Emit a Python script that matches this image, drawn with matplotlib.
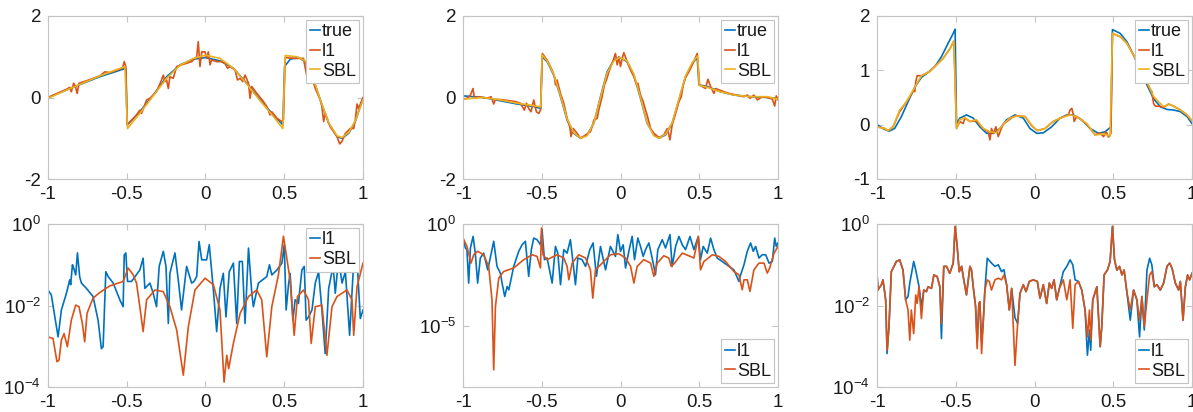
import matplotlib
matplotlib.use('Agg')
import matplotlib.pyplot as plt
import numpy as np

plt.rcParams['font.family'] = ['Liberation Sans', 'DejaVu Sans']
plt.rcParams['mathtext.fontset'] = 'custom'
plt.rcParams['mathtext.rm'] = 'Liberation Sans'

c_blue = '#0072BD'
c_orange = '#D95319'
c_yellow = '#EDB120'
c_box = '#c4c4c4'
c_text = '#1a1a1a'

########################
# Top row: signals     #
########################

# --- panel 1 ---
x_true_1 = [-1.0, -0.841, -0.671, -0.519, -0.506, -0.497, -0.417, -0.332, -0.247, -0.162,
            -0.077, 0.001, 0.092, 0.177, 0.262, 0.347, 0.432, 0.491, 0.502, 0.538,
            0.591, 0.633, 0.686, 0.729, 0.782, 0.835, 0.866, 0.909, 0.951, 1.0]
y_true_1 = [0.0, 0.25, 0.51, 0.70, 0.72, -0.67, -0.35, 0.06, 0.51, 0.80,
            0.94, 0.98, 0.90, 0.72, 0.35, -0.06, -0.43, -0.67, 0.76, 0.94,
            0.98, 0.88, 0.43, -0.06, -0.63, -0.96, -1.00, -0.88, -0.59, -0.02]

x_l1_1 = [-1.0, -0.883, -0.862, -0.852, -0.837, -0.824, -0.815, -0.803, -0.756, -0.671,
          -0.639, -0.608, -0.527, -0.516, -0.506, -0.497, -0.438, -0.417, -0.406, -0.374,
          -0.353, -0.311, -0.279, -0.268, -0.258, -0.247, -0.236, -0.226, -0.205, -0.183,
          -0.152, -0.120, -0.088, -0.067, -0.056, -0.046, -0.035, -0.024, -0.003, 0.007,
          0.018, 0.029, 0.039, 0.071, 0.103, 0.124, 0.139, 0.156, 0.188, 0.203,
          0.220, 0.237, 0.251, 0.273, 0.283, 0.294, 0.326, 0.368, 0.389, 0.410,
          0.421, 0.453, 0.485, 0.495, 0.506, 0.569, 0.622, 0.644, 0.665, 0.697,
          0.729, 0.739, 0.750, 0.760, 0.792, 0.835, 0.852, 0.866, 0.888, 0.919,
          0.941, 0.951, 0.962, 0.972, 1.0]
y_l1_1 = [0.00, 0.20, 0.25, 0.14, 0.35, 0.25, 0.10, 0.35, 0.41, 0.53,
          0.63, 0.61, 0.72, 0.88, 0.76, -0.67, -0.43, -0.31, -0.39, -0.06,
          -0.02, 0.14, 0.43, 0.55, 0.39, 0.43, 0.22, 0.51, 0.47, 0.76,
          0.80, 0.84, 0.88, 0.96, 1.00, 1.37, 0.76, 1.12, 1.12, 0.96,
          1.12, 0.80, 0.92, 0.88, 0.88, 0.84, 0.72, 0.76, 0.67, 0.43,
          0.47, 0.39, 0.55, 0.35, -0.02, 0.27, 0.10, -0.10, -0.22, -0.43,
          -0.35, -0.51, -0.59, -0.55, 0.98, 0.96, 0.96, 0.51, 0.63, 0.22,
          -0.06, -0.22, -0.59, -0.39, -0.72, -0.96, -1.14, -1.08, -0.88, -0.76,
          -0.76, -0.55, -0.16, -0.27, 0.00]

x_sbl_1 = [-1.0, -0.841, -0.671, -0.512, -0.495, -0.417, -0.332, -0.247, -0.162, -0.077,
           0.001, 0.092, 0.177, 0.262, 0.347, 0.432, 0.491, 0.506, 0.580, 0.633,
           0.686, 0.729, 0.782, 0.835, 0.866, 0.909, 0.951, 1.0]
y_sbl_1 = [-0.02, 0.25, 0.53, 0.76, -0.76, -0.39, 0.04, 0.47, 0.79, 0.96,
           1.04, 0.96, 0.72, 0.33, -0.08, -0.47, -0.76, 1.03, 1.00, 0.90,
           0.45, -0.06, -0.62, -0.94, -0.98, -0.86, -0.57, -0.06]

# --- panel 2 ---
x_true_2 = [-1.0, -0.869, -0.763, -0.657, -0.551, -0.506, -0.498, -0.466, -0.424, -0.381,
            -0.339, -0.297, -0.254, -0.212, -0.169, -0.127, -0.085, -0.042, -0.004, 0.042,
            0.085, 0.127, 0.169, 0.212, 0.244, 0.286, 0.328, 0.371, 0.413, 0.456,
            0.487, 0.498, 0.551, 0.636, 0.72, 0.826, 0.932, 1.0]
y_true_2 = [0.04, 0.0, -0.08, -0.16, -0.22, -0.27, 1.00, 0.88, 0.55, 0.02,
            -0.55, -0.88, -1.00, -0.92, -0.63, 0.02, 0.63, 0.92, 0.98, 0.88,
            0.55, -0.02, -0.63, -0.92, -1.00, -0.92, -0.63, -0.06, 0.51, 0.84,
            0.98, 0.31, 0.27, 0.14, 0.06, 0.02, 0.0, -0.02]

x_l1_2 = [-1.0, -0.975, -0.953, -0.936, -0.928, -0.900, -0.847, -0.822, -0.805, -0.794,
          -0.742, -0.667, -0.636, -0.610, -0.597, -0.583, -0.568, -0.551, -0.534, -0.519,
          -0.508, -0.496, -0.466, -0.434, -0.419, -0.413, -0.403, -0.381, -0.360, -0.339,
          -0.322, -0.314, -0.301, -0.275, -0.254, -0.222, -0.191, -0.180, -0.169, -0.148,
          -0.138, -0.127, -0.117, -0.102, -0.089, -0.074, -0.053, -0.032, -0.021, -0.011,
          0.000, 0.011, 0.021, 0.042, 0.064, 0.085, 0.102, 0.110, 0.127, 0.144,
          0.159, 0.169, 0.191, 0.212, 0.244, 0.275, 0.297, 0.307, 0.314, 0.328,
          0.350, 0.371, 0.386, 0.398, 0.413, 0.434, 0.456, 0.487, 0.502, 0.519,
          0.540, 0.555, 0.572, 0.593, 0.604, 0.631, 0.657, 0.699, 0.784, 0.805,
          0.822, 0.847, 0.869, 0.900, 0.932, 0.964, 0.979, 0.989, 1.0]
y_l1_2 = [-0.04, -0.02, 0.06, 0.22, -0.02, 0.02, -0.02, 0.02, -0.16, -0.04,
          -0.06, -0.10, -0.14, -0.31, -0.14, -0.27, -0.35, -0.06, -0.35, -0.39,
          -0.31, 1.08, 0.92, 0.67, 0.51, 0.31, 0.43, 0.10, -0.14, -0.51,
          -0.72, -0.96, -0.76, -0.88, -1.00, -0.92, -0.84, -0.72, -0.55, -0.51,
          -0.31, -0.14, 0.02, 0.31, 0.43, 0.63, 0.84, 1.08, 0.80, 1.00,
          0.76, 0.96, 1.10, 0.88, 0.67, 0.51, 0.31, 0.35, 0.06, -0.10,
          -0.31, -0.43, -0.76, -0.88, -0.98, -0.92, -0.76, -0.92, -1.04, -0.67,
          -0.39, -0.10, 0.02, 0.31, 0.49, 0.63, 0.80, 1.08, 0.31, 0.27,
          0.22, 0.45, 0.27, 0.10, 0.22, 0.18, 0.14, 0.09, 0.02, 0.06,
          -0.02, 0.06, -0.06, 0.02, 0.00, -0.04, -0.21, 0.04, -0.06]

x_sbl_2 = [-1.0, -0.869, -0.763, -0.657, -0.551, -0.506, -0.498, -0.466, -0.424, -0.381,
           -0.339, -0.297, -0.254, -0.212, -0.169, -0.127, -0.085, -0.042, -0.004, 0.042,
           0.085, 0.127, 0.169, 0.212, 0.244, 0.286, 0.328, 0.371, 0.413, 0.456,
           0.490, 0.500, 0.551, 0.636, 0.72, 0.826, 0.932, 1.0]
y_sbl_2 = [-0.04, 0.0, -0.06, -0.14, -0.20, -0.23, 1.05, 0.90, 0.57, 0.04,
           -0.52, -0.86, -1.00, -0.94, -0.62, 0.0, 0.60, 0.90, 0.98, 0.90,
           0.57, 0.0, -0.62, -0.94, -1.00, -0.90, -0.62, -0.04, 0.53, 0.86,
           1.02, 0.30, 0.25, 0.14, 0.06, 0.02, 0.02, -0.04]

# --- panel 3 ---
x_true_3 = [-1.0, -0.962, -0.924, -0.888, -0.845, -0.803, -0.760, -0.718, -0.676, -0.633,
            -0.591, -0.548, -0.516, -0.504, -0.495, -0.474, -0.432, -0.389, -0.347, -0.304,
            -0.262, -0.219, -0.177, -0.124, -0.071, -0.029, 0.014, 0.056, 0.109, 0.162,
            0.205, 0.247, 0.300, 0.353, 0.406, 0.449, 0.485, 0.495, 0.544, 0.586,
            0.629, 0.671, 0.714, 0.756, 0.799, 0.841, 0.883, 0.926, 0.968, 1.0]
y_true_3 = [0.0, -0.07, -0.12, -0.07, 0.15, 0.42, 0.69, 0.87, 0.96, 1.07,
            1.25, 1.50, 1.68, 1.76, 0.02, 0.12, 0.18, 0.12, -0.04, -0.16,
            -0.16, -0.07, 0.09, 0.18, 0.12, -0.07, -0.16, -0.15, -0.04, 0.12,
            0.18, 0.18, 0.09, -0.07, -0.16, -0.13, -0.04, 1.75, 1.68, 1.53,
            1.28, 1.01, 0.73, 0.48, 0.33, 0.28, 0.27, 0.24, 0.15, 0.02]

x_l1_3 = [-1.0, -0.951, -0.930, -0.898, -0.856, -0.813, -0.771, -0.760, -0.754, -0.745,
          -0.718, -0.665, -0.622, -0.580, -0.537, -0.512, -0.495, -0.474, -0.453, -0.442,
          -0.410, -0.368, -0.326, -0.294, -0.283, -0.273, -0.262, -0.245, -0.230, -0.215,
          -0.198, -0.156, -0.134, -0.113, -0.060, -0.018, 0.018, 0.067, 0.120, 0.173,
          0.215, 0.226, 0.237, 0.247, 0.252, 0.268, 0.332, 0.385, 0.417, 0.438,
          0.455, 0.470, 0.485, 0.495, 0.544, 0.586, 0.629, 0.671, 0.714, 0.724,
          0.735, 0.745, 0.756, 0.767, 0.788, 0.820, 0.852, 0.883, 0.926, 0.968, 1.0]
y_l1_3 = [-0.04, -0.07, -0.11, -0.04, 0.24, 0.42, 0.61, 0.61, 0.79, 0.90,
          0.90, 0.98, 1.10, 1.22, 1.40, 1.54, -0.07, 0.06, 0.02, 0.12,
          0.06, 0.07, -0.07, -0.13, -0.28, -0.07, -0.16, -0.04, -0.22, -0.10,
          0.01, 0.10, 0.15, 0.16, 0.15, -0.02, -0.11, -0.07, 0.06, 0.13,
          0.18, 0.27, 0.30, 0.18, 0.06, 0.15, 0.01, -0.19, -0.15, -0.22,
          -0.13, -0.23, -0.16, 1.68, 1.62, 1.50, 1.28, 1.04, 0.76, 0.71,
          0.65, 0.61, 0.39, 0.34, 0.34, 0.32, 0.38, 0.34, 0.27, 0.18, 0.07]

x_sbl_3 = [-1.0, -0.951, -0.930, -0.898, -0.856, -0.813, -0.760, -0.718, -0.665, -0.622,
           -0.580, -0.537, -0.512, -0.495, -0.474, -0.442, -0.410, -0.368, -0.326, -0.283,
           -0.241, -0.198, -0.156, -0.113, -0.060, -0.018, 0.018, 0.067, 0.120, 0.173,
           0.226, 0.268, 0.332, 0.385, 0.438, 0.480, 0.495, 0.544, 0.586, 0.629,
           0.671, 0.714, 0.756, 0.788, 0.820, 0.852, 0.883, 0.926, 0.968, 1.0]
y_sbl_3 = [-0.04, -0.07, -0.11, -0.04, 0.27, 0.42, 0.69, 0.90, 0.98, 1.10,
           1.22, 1.40, 1.54, -0.07, 0.09, 0.13, 0.06, 0.09, -0.07, -0.13,
           -0.15, 0.01, 0.12, 0.16, 0.15, -0.01, -0.11, -0.07, 0.06, 0.13,
           0.18, 0.15, 0.02, -0.19, -0.17, -0.21, 1.68, 1.62, 1.50, 1.28,
           1.04, 0.79, 0.52, 0.42, 0.33, 0.38, 0.34, 0.27, 0.18, 0.07]

########################
# Bottom row: errors   #
# (stored as log10)    #
########################

# --- panel 4 ---
xe_l1_1 = [-1.000, -0.979, -0.936, -0.915, -0.883, -0.862, -0.856, -0.845, -0.837, -0.824,
           -0.813, -0.799, -0.788, -0.756, -0.714, -0.682, -0.661, -0.650, -0.633, -0.618,
           -0.586, -0.544, -0.523, -0.516, -0.506, -0.495, -0.470, -0.417, -0.396, -0.385,
           -0.353, -0.332, -0.311, -0.294, -0.268, -0.251, -0.236, -0.226, -0.194, -0.173,
           -0.152, -0.120, -0.088, -0.073, -0.056, -0.041, -0.024, 0.007, 0.024, 0.050,
           0.071, 0.092, 0.113, 0.130, 0.151, 0.177, 0.198, 0.215, 0.234, 0.251,
           0.273, 0.294, 0.304, 0.336, 0.389, 0.406, 0.421, 0.453, 0.485, 0.500,
           0.512, 0.527, 0.537, 0.555, 0.569, 0.590, 0.612, 0.627, 0.639, 0.654,
           0.676, 0.697, 0.718, 0.739, 0.760, 0.782, 0.803, 0.813, 0.824, 0.845,
           0.867, 0.888, 0.915, 0.937, 0.962, 0.983, 1.000]
le_l1_1 = [-1.62, -1.74, -2.77, -2.11, -1.70, -1.37, -1.49, -1.00, -1.08, -1.25,
           -0.71, -1.29, -1.45, -1.58, -1.78, -2.36, -3.06, -3.01, -1.17, -1.29,
           -1.45, -1.86, -2.03, -0.76, -0.71, -1.41, -1.41, -1.13, -0.84, -1.58,
           -1.45, -1.70, -2.03, -1.04, -0.67, -1.04, -2.44, -1.21, -0.71, -1.37,
           -2.11, -1.04, -1.45, -1.41, -1.29, -0.43, -0.88, -0.88, -0.51, -1.62,
           -2.64, -1.58, -1.21, -2.28, -1.17, -0.96, -2.44, -0.92, -0.92, -2.44,
           -0.59, -1.70, -2.03, -1.45, -1.29, -1.00, -1.25, -1.13, -0.96, -0.51,
           -2.11, -1.49, -1.21, -2.36, -1.86, -1.95, -1.13, -1.04, -2.36, -2.28,
           -2.11, -1.45, -1.17, -2.11, -3.18, -1.58, -1.17, -1.17, -1.70, -0.84,
           -1.45, -1.17, -2.73, -1.21, -0.88, -2.32, -2.11]

xe_sbl_1 = [-1.000, -0.968, -0.943, -0.930, -0.915, -0.898, -0.877, -0.852, -0.824, -0.803,
            -0.782, -0.767, -0.752, -0.714, -0.671, -0.608, -0.523, -0.491, -0.459, -0.438,
            -0.417, -0.396, -0.374, -0.321, -0.268, -0.226, -0.183, -0.141, -0.109, -0.067,
            -0.003, 0.050, 0.092, 0.118, 0.135, 0.147, 0.177, 0.220, 0.273, 0.325,
            0.357, 0.389, 0.421, 0.463, 0.495, 0.508, 0.537, 0.563, 0.584, 0.622,
            0.654, 0.671, 0.697, 0.739, 0.771, 0.803, 0.835, 0.898, 0.930, 0.941,
            0.962, 1.000]
le_sbl_1 = [-2.77, -2.81, -3.38, -3.34, -2.85, -2.69, -3.01, -2.36, -1.99, -2.03,
            -2.44, -2.89, -2.19, -1.82, -1.68, -1.52, -1.41, -1.08, -1.25, -1.45,
            -2.03, -2.64, -1.86, -1.62, -1.66, -2.03, -2.60, -3.71, -2.52, -1.62,
            -1.33, -1.49, -2.11, -3.88, -3.22, -3.55, -2.93, -2.19, -1.78, -1.62,
            -1.86, -3.26, -2.03, -1.25, -0.30, -0.63, -1.37, -2.73, -1.78, -1.62,
            -1.86, -2.93, -2.03, -1.99, -3.22, -2.03, -1.78, -1.62, -1.86, -2.73,
            -1.54, -0.96]

# --- panel 5 ---
xe_l1_2 = [-1.000, -0.985, -0.975, -0.964, -0.953, -0.936, -0.922, -0.907, -0.890, -0.869,
           -0.843, -0.816, -0.805, -0.784, -0.763, -0.752, -0.735, -0.720, -0.709, -0.678,
           -0.646, -0.625, -0.604, -0.583, -0.566, -0.551, -0.530, -0.508, -0.498, -0.483,
           -0.466, -0.434, -0.413, -0.398, -0.381, -0.360, -0.339, -0.318, -0.301, -0.286,
           -0.271, -0.244, -0.222, -0.195, -0.174, -0.153, -0.127, -0.095, -0.064, -0.032,
           -0.017, 0.000, 0.017, 0.032, 0.053, 0.074, 0.089, 0.110, 0.127, 0.144,
           0.159, 0.180, 0.201, 0.222, 0.237, 0.265, 0.286, 0.314, 0.328, 0.350,
           0.371, 0.392, 0.413, 0.441, 0.466, 0.494, 0.508, 0.525, 0.551, 0.572,
           0.593, 0.614, 0.646, 0.689, 0.720, 0.752, 0.763, 0.784, 0.805, 0.826,
           0.843, 0.858, 0.879, 0.900, 0.922, 0.943, 0.964, 0.979, 0.989, 1.000]
le_l1_2 = [-0.69, -1.18, -1.26, -2.90, -1.18, -0.61, -1.43, -2.90, -1.67, -1.43,
           -2.25, -1.26, -0.85, -2.08, -2.41, -2.90, -3.56, -3.07, -3.23, -2.08,
           -1.34, -1.02, -0.85, -2.57, -1.26, -0.69, -0.77, -1.02, -0.28, -1.75,
           -1.67, -2.90, -1.10, -1.43, -2.98, -1.26, -1.43, -0.77, -1.92, -2.98,
           -1.67, -1.75, -2.08, -1.26, -0.93, -2.57, -1.10, -2.25, -1.10, -1.59,
           -0.52, -1.34, -1.02, -2.16, -1.34, -0.61, -1.75, -0.69, -1.10, -1.59,
           -1.26, -0.93, -1.67, -2.49, -1.26, -0.77, -1.18, -0.52, -2.08, -1.10,
           -0.61, -1.02, -1.26, -0.61, -1.26, -0.61, -1.75, -1.10, -1.43, -0.69,
           -1.26, -1.67, -1.84, -2.08, -2.25, -2.82, -2.49, -2.00, -1.34, -0.93,
           -1.34, -1.10, -1.67, -1.51, -1.51, -1.92, -1.84, -0.69, -1.10, -0.93]

xe_sbl_2 = [-1.000, -0.975, -0.949, -0.932, -0.907, -0.869, -0.837, -0.816, -0.805, -0.794,
            -0.773, -0.742, -0.678, -0.614, -0.561, -0.530, -0.508, -0.502, -0.492, -0.466,
            -0.403, -0.360, -0.339, -0.328, -0.307, -0.265, -0.222, -0.191, -0.176, -0.159,
            -0.106, -0.064, -0.011, 0.032, 0.064, 0.085, 0.106, 0.148, 0.191, 0.212,
            0.233, 0.275, 0.307, 0.322, 0.343, 0.392, 0.434, 0.466, 0.494, 0.508,
            0.530, 0.583, 0.625, 0.667, 0.720, 0.752, 0.773, 0.784, 0.805, 0.822,
            0.847, 0.879, 0.911, 0.932, 0.947, 0.975, 1.000]
le_sbl_2 = [-0.69, -1.10, -1.92, -1.51, -1.34, -1.51, -2.08, -3.72, -7.16, -4.05,
            -2.66, -2.33, -2.16, -1.75, -1.51, -1.59, -2.16, -0.20, -1.51, -1.75,
            -1.51, -1.67, -2.08, -2.74, -1.92, -1.51, -1.67, -2.25, -3.64, -2.25,
            -1.84, -1.51, -1.46, -1.67, -2.08, -2.90, -2.08, -1.75, -1.92, -2.57,
            -1.92, -1.56, -1.67, -2.08, -1.92, -1.43, -1.56, -1.67, -0.61, -2.25,
            -1.84, -1.51, -1.59, -1.84, -2.33, -2.49, -3.23, -2.74, -2.74, -3.31,
            -2.25, -1.92, -1.92, -2.41, -2.16, -1.43, -1.10]

# --- panel 6 ---
xe_sbl_3 = [-1.000, -0.994, -0.972, -0.962, -0.945, -0.936, -0.924, -0.909, -0.877, -0.856,
            -0.835, -0.818, -0.803, -0.792, -0.782, -0.767, -0.754, -0.745, -0.733, -0.718,
            -0.703, -0.686, -0.676, -0.654, -0.639, -0.618, -0.601, -0.591, -0.576, -0.559,
            -0.538, -0.516, -0.504, -0.491, -0.478, -0.463, -0.449, -0.432, -0.410, -0.400,
            -0.389, -0.374, -0.364, -0.353, -0.347, -0.336, -0.326, -0.315, -0.300, -0.287,
            -0.273, -0.251, -0.230, -0.209, -0.194, -0.177, -0.160, -0.145, -0.124, -0.107,
            -0.092, -0.071, -0.054, -0.033, -0.008, 0.018, 0.035, 0.056, 0.077, 0.094,
            0.109, 0.124, 0.141, 0.158, 0.183, 0.205, 0.226, 0.243, 0.258, 0.279,
            0.300, 0.321, 0.336, 0.349, 0.357, 0.370, 0.396, 0.417, 0.427, 0.442,
            0.463, 0.480, 0.495, 0.508, 0.523, 0.540, 0.555, 0.569, 0.586, 0.608,
            0.629, 0.650, 0.667, 0.682, 0.697, 0.714, 0.731, 0.745, 0.761, 0.777,
            0.799, 0.820, 0.841, 0.858, 0.873, 0.894, 0.915, 0.926, 0.943, 0.958,
            0.972, 0.985, 1.000]
le_sbl_3 = [-1.21, -1.62, -1.49, -1.37, -1.86, -3.10, -2.52, -1.17, -0.92, -0.88,
            -1.13, -1.86, -2.11, -2.85, -2.11, -2.69, -1.74, -1.95, -1.54, -2.32,
            -1.62, -1.66, -1.54, -1.58, -1.25, -1.29, -1.54, -2.44, -1.04, -1.04,
            -1.21, -0.96, -0.06, -0.55, -1.17, -1.04, -1.37, -1.74, -1.04, -1.13,
            -1.54, -2.03, -3.06, -1.95, -1.91, -3.18, -2.44, -1.62, -1.37, -1.41,
            -1.62, -1.37, -1.33, -1.37, -1.25, -1.49, -2.11, -1.58, -3.47, -2.44,
            -1.70, -1.49, -1.66, -1.41, -1.37, -1.41, -1.82, -1.49, -1.95, -1.45,
            -1.58, -1.37, -1.86, -1.58, -1.37, -1.86, -1.37, -2.56, -1.49, -1.41,
            -1.62, -2.11, -2.77, -2.11, -2.85, -1.86, -1.54, -3.01, -2.52, -1.25,
            -1.13, -0.92, -0.06, -0.88, -1.13, -1.04, -1.25, -1.13, -1.66, -2.11,
            -1.62, -1.86, -2.36, -1.78, -2.52, -1.86, -1.25, -1.17, -1.54, -1.49,
            -1.62, -1.45, -1.04, -0.96, -1.08, -1.45, -1.62, -1.41, -2.36, -1.54,
            -1.25, -1.37, -1.21]

xe_l1_3 = [-1.000, -0.994, -0.972, -0.962, -0.945, -0.936, -0.924, -0.909, -0.877, -0.856,
           -0.835, -0.818, -0.803, -0.792, -0.767, -0.754, -0.733, -0.718, -0.703, -0.686,
           -0.676, -0.654, -0.639, -0.618, -0.601, -0.591, -0.576, -0.559, -0.538, -0.516,
           -0.504, -0.491, -0.478, -0.463, -0.449, -0.432, -0.410, -0.400, -0.389, -0.374,
           -0.364, -0.353, -0.347, -0.336, -0.326, -0.315, -0.300, -0.273, -0.251, -0.230,
           -0.209, -0.194, -0.177, -0.160, -0.145, -0.124, -0.107, -0.092, -0.071, -0.054,
           -0.033, -0.008, 0.018, 0.035, 0.056, 0.077, 0.094, 0.109, 0.124, 0.141,
           0.158, 0.183, 0.205, 0.226, 0.243, 0.258, 0.279, 0.300, 0.321, 0.336,
           0.349, 0.357, 0.370, 0.396, 0.417, 0.427, 0.442, 0.463, 0.480, 0.495,
           0.508, 0.523, 0.540, 0.555, 0.569, 0.586, 0.608, 0.629, 0.650, 0.667,
           0.682, 0.697, 0.714, 0.731, 0.745, 0.761, 0.777, 0.799, 0.820, 0.841,
           0.858, 0.873, 0.894, 0.915, 0.926, 0.943, 0.958, 0.972, 0.985, 1.000]
le_l1_3 = [-1.21, -1.62, -1.49, -1.37, -1.86, -3.18, -2.52, -1.17, -0.92, -0.88,
           -1.13, -1.86, -1.78, -1.45, -0.92, -1.13, -1.54, -2.03, -1.62, -1.66,
           -1.54, -1.58, -1.25, -1.29, -1.54, -2.81, -1.04, -1.04, -1.21, -0.96,
           -0.06, -0.55, -1.17, -1.04, -1.37, -1.74, -1.04, -1.13, -1.54, -2.03,
           -2.90, -1.95, -1.91, -2.90, -2.44, -1.62, -0.84, -0.96, -1.04, -1.00,
           -1.17, -1.12, -1.49, -2.11, -1.58, -2.30, -2.44, -1.70, -1.49, -1.66,
           -1.41, -1.37, -1.41, -1.82, -1.49, -1.95, -1.45, -1.58, -1.37, -1.86,
           -1.58, -1.17, -1.04, -0.88, -1.00, -1.37, -1.41, -1.62, -2.11, -3.22,
           -2.60, -3.10, -1.86, -1.54, -3.01, -2.52, -1.25, -1.13, -0.92, -0.06,
           -0.88, -1.13, -1.04, -1.25, -1.13, -1.66, -2.36, -1.62, -1.86, -2.77,
           -1.78, -2.60, -1.13, -0.84, -1.00, -1.54, -1.49, -1.62, -1.45, -1.04,
           -0.96, -1.08, -1.45, -1.62, -1.41, -2.36, -1.54, -1.25, -1.37, -1.21]

##############
# The figure #
##############
fig = plt.figure(figsize=(11.93, 4.12), dpi=100)

W = 315 / 1193
H = 163 / 412
lefts = [48 / 1193, 463 / 1193, 877 / 1193]
bottoms = [1 - 179 / 412, 1 - 387 / 412]


def style_axes(ax):
    for s in ax.spines.values():
        s.set_color(c_box)
        s.set_linewidth(0.8)
    ax.tick_params(which='both', direction='in', top=True, right=True,
                   color=c_box, labelcolor=c_text, labelsize=13.5,
                   length=4, width=0.8, pad=5)
    ax.set_xlim(-1, 1)
    ax.set_xticks([-1, -0.5, 0, 0.5, 1])
    ax.set_xticklabels(['-1', '-0.5', '0', '0.5', '1'])


def add_legend(ax, loc):
    leg = ax.legend(loc=loc, fontsize=13, handlelength=0.55, handletextpad=0.1,
                    borderpad=0.2, labelspacing=0.15, borderaxespad=0.2,
                    fancybox=False, framealpha=1)
    leg.get_frame().set_edgecolor(c_box)
    leg.get_frame().set_linewidth(0.8)
    for t in leg.get_texts():
        t.set_color(c_text)


top_data = [
    (x_true_1, y_true_1, x_l1_1, y_l1_1, x_sbl_1, y_sbl_1, (-2, 2), [-2, 0, 2]),
    (x_true_2, y_true_2, x_l1_2, y_l1_2, x_sbl_2, y_sbl_2, (-2, 2), [-2, 0, 2]),
    (x_true_3, y_true_3, x_l1_3, y_l1_3, x_sbl_3, y_sbl_3, (-1, 2), [-1, 0, 1, 2]),
]

for i, (xt, yt, xl, yl, xs, ys, ylim, yticks) in enumerate(top_data):
    ax = fig.add_axes([lefts[i], bottoms[0], W, H])
    ax.plot(xt, yt, color=c_blue, lw=1.2, label='true')
    ax.plot(xl, yl, color=c_orange, lw=1.2, label='l1')
    ax.plot(xs, ys, color=c_yellow, lw=1.2, label='SBL')
    style_axes(ax)
    ax.set_ylim(*ylim)
    ax.set_yticks(yticks)
    ax.set_yticklabels([str(v) for v in yticks])
    add_legend(ax, 'upper right')

bot_data = [
    (xe_l1_1, le_l1_1, xe_sbl_1, le_sbl_1, (1e-4, 1), [-4, -2, 0], 'upper right'),
    (xe_l1_2, le_l1_2, xe_sbl_2, le_sbl_2, (1e-8, 1), [-5, 0], 'lower right'),
    (xe_l1_3, le_l1_3, xe_sbl_3, le_sbl_3, (1e-4, 1), [-4, -2, 0], 'lower right'),
]

for i, (xl, ll, xs, ls, ylim, yexp, loc) in enumerate(bot_data):
    ax = fig.add_axes([lefts[i], bottoms[1], W, H])
    ax.plot(xl, 10.0 ** np.array(ll), color=c_blue, lw=1.2, label='l1')
    ax.plot(xs, 10.0 ** np.array(ls), color=c_orange, lw=1.2, label='SBL')
    ax.set_yscale('log')
    style_axes(ax)
    ax.set_ylim(*ylim)
    ax.set_yticks([10.0 ** e for e in yexp])
    ax.set_yticklabels(['$10^{%d}$' % e for e in yexp])
    ax.minorticks_off()
    add_legend(ax, loc)

fig.savefig('out.png', dpi=100)
